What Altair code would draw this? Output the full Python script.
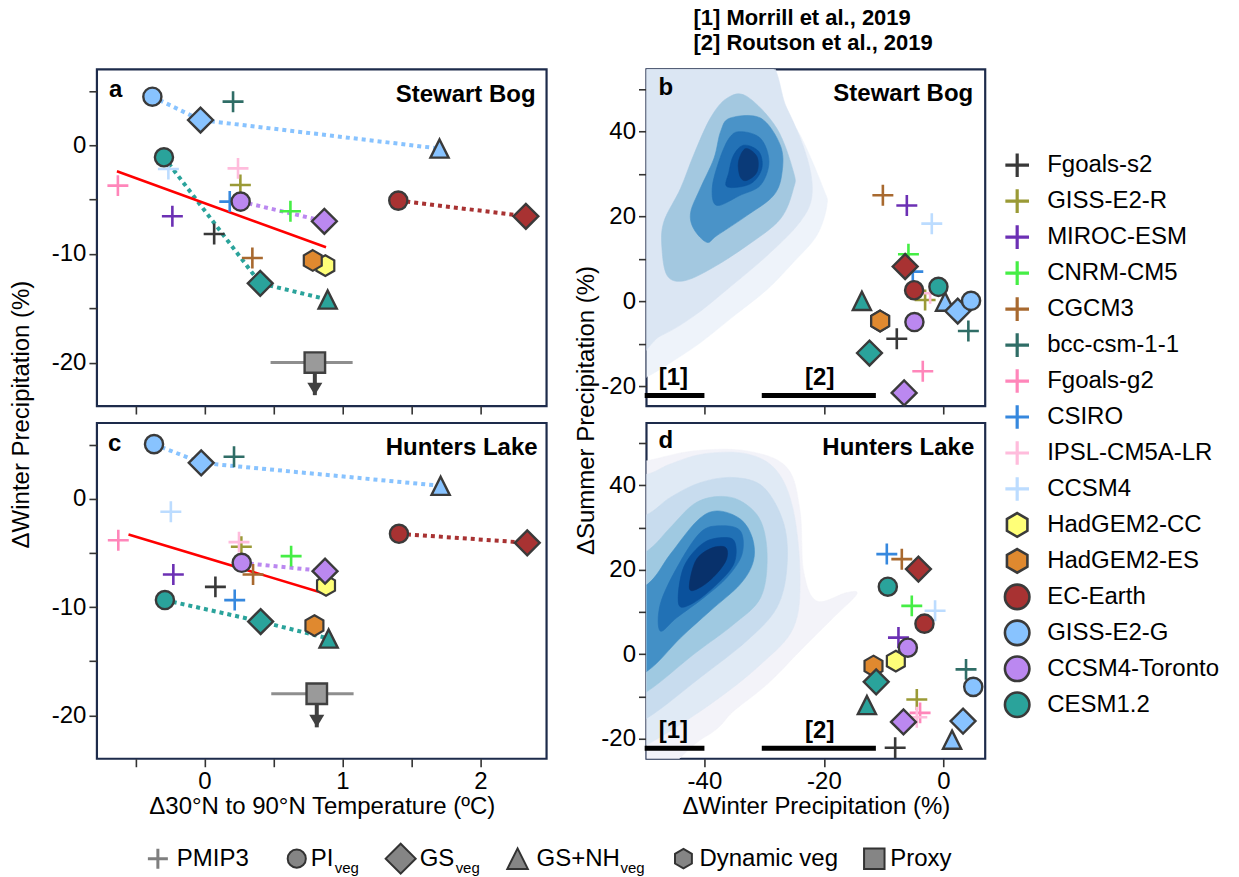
import altair as alt
import pandas as pd

FONT = "Liberation Sans"
FRAME = "#1d2b4b"
EDGE = "#3a3a3a"
TICKC = "#333333"

# ---------------- data ----------------
models = ["Fgoals-s2", "GISS-E2-R", "MIROC-ESM", "CNRM-CM5", "CGCM3", "bcc-csm-1-1",
          "Fgoals-g2", "CSIRO", "IPSL-CM5A-LR", "CCSM4", "HadGEM2-CC", "HadGEM2-ES",
          "EC-Earth", "GISS-E2-G", "CCSM4-Toronto", "CESM1.2"]
model_groups = ["PMIP3"] * 10 + ["DYN"] * 2 + ["PI"] * 4
pmip_models = models[:10]
dyn_models = models[10:12]
exp_models = ["EC-Earth", "EC-Earth", "GISS-E2-G", "GISS-E2-G", "GISS-E2-G",
              "CCSM4-Toronto", "CCSM4-Toronto", "CESM1.2", "CESM1.2", "CESM1.2"]
exp_kinds = ["PI", "GS", "PI", "GS", "GSNH", "PI", "GS", "PI", "GS", "GSNH"]

# panel a : Stewart Bog, temperature vs winter precip
a_pmip_x = [0.070, 0.260, -0.233, 0.623, 0.347, 0.207, -0.628, 0.183, 0.243, -0.262]
a_pmip_y = [-8.16, -3.65, -6.53, -6.07, -10.37, 4.02, -3.71, -5.18, -2.12, -2.18]
a_dyn_x = [0.876, 0.785]
a_dyn_y = [-11.07, -10.6]
a_exp_x = [1.405, 2.33, -0.378, -0.029, 1.704, 0.262, 0.869, -0.294, 0.404, 0.893]
a_exp_y = [-5.09, -6.53, 4.48, 2.33, -0.3, -5.18, -6.99, -1.10, -12.7, -14.2]
a_proxy = {"x": 0.80, "y": -20.0, "lo": 0.479, "hi": 1.074, "end": -23.0}
a_fit_x = [-0.635, 0.881]
a_fit_y = [-2.39, -9.38]

# panel c : Hunters Lake, temperature vs winter precip
c_pmip_x = [0.079, 0.267, -0.226, 0.628, 0.352, 0.214, -0.625, 0.219, 0.25, -0.244]
c_pmip_y = [-8.13, -4.43, -6.99, -5.29, -6.99, 3.88, -3.82, -9.35, -4.0, -1.2]
c_dyn_x = [0.881, 0.797]
c_dyn_y = [-8.0, -11.7]
c_exp_x = [1.41, 2.34, -0.366, -0.024, 1.712, 0.27, 0.874, -0.287, 0.407, 0.90]
c_exp_y = [-3.23, -4.06, 5.05, 3.32, 1.2, -5.91, -6.68, -9.35, -11.33, -12.9]
c_proxy = {"x": 0.814, "y": -18.0, "lo": 0.484, "hi": 1.081, "end": -21.1}
c_fit_x = [-0.551, 0.869]
c_fit_y = [-3.29, -8.74]

# panel b : Stewart Bog, winter vs summer precip
b_pmip_x = [-7.8, -3.06, -6.12, -5.85, -10.13, 4.18, -3.45, -5.12, -2.22, -1.94]
b_pmip_y = [-8.85, 0.3, 22.6, 11.1, 25.0, -7.0, -16.5, 7.0, 1.9, 18.3]
b_dyn_x = [-10.6, -10.58]
b_dyn_y = [-4.65, -4.65]
b_exp_x = [-4.9, -6.4, 4.63, 2.4, 0.28, -4.85, -6.57, -0.83, -12.37, -13.64]
b_exp_y = [2.6, 8.2, 0.1, -2.3, -0.1, -4.9, -21.6, 3.4, -12.2, 0.1]

# panel d : Hunters Lake, winter vs summer precip
d_pmip_x = [-8.07, -4.45, -7.52, -5.29, -6.96, 3.79, -3.9, -9.47, -4.45, -1.39]
d_pmip_y = [-22.1, -10.7, 3.95, 11.45, 22.5, -3.56, -13.85, 23.7, -14.9, 10.3]
d_dyn_x = [-7.96, -11.7]
d_dyn_y = [-1.6, -2.77]
d_exp_x = [-3.17, -4.18, 5.0, 3.29, 1.45, -5.95, -6.68, -9.3, -11.25, -12.8]
d_exp_y = [7.25, 20.15, -7.7, -15.8, -20.2, 1.56, -16.0, 16.0, -6.5, -12.0]

# reconstruction ranges [1], [2]
ref_labels = ["[1]", "[2]"]
ref_x0 = [-50.0, -30.4]
ref_x1 = [-40.0, -11.3]
ref_y = [-22.2, -22.2]
ref_label_x = [-45.2, -20.7]
ref_label_y = [-18.2, -18.2]

# density contours (outer -> inner), panel b
b_cx = [
    [-56, -31.0, -28.4, -24.0, -20.1, -19.5, -21.2, -25.1, -29.5, -35.1, -40.7, -45.7, -49.5, -56],
    [-56, -32.0, -26.2, -22.8, -22.0, -24.0, -29.5, -36.2, -41.8, -47.4, -56],
    [-36.2, -32.9, -27.9, -25.1, -25.1, -27.3, -32.9, -39.0, -43.5, -46.2, -47.1, -46.8, -44.0, -41.8, -39.0],
    [-35.7, -30.6, -27.3, -27.0, -28.4, -32.9, -37.9, -39.6, -41.8, -42.3, -40.7, -38.4, -37.3],
    [-34.0, -30.6, -29.2, -30.6, -34.0, -37.9, -38.7, -37.6, -35.9],
    [-33.4, -30.9, -30.4, -32.3, -36.2, -35.9, -35.1],
    [-33.1, -31.2, -31.2, -32.9, -34.0, -34.3],
]
b_cy = [
    [60, 60, 48.7, 39.2, 26.6, 22.6, 15.5, 9.2, 2.8, -3.5, -9.8, -14.5, -17.7, -22],
    [60, 60, 45.5, 33.7, 25.0, 18.7, 10.8, 2.8, -3.5, -8.2, -13],
    [47.9, 48.3, 40.8, 30.5, 26.6, 19.4, 13.1, 7.6, 4.8, 6.0, 12.3, 18.7, 26.6, 34.5, 43.2],
    [43.2, 43.2, 36.8, 30.5, 25.0, 20.2, 15.5, 13.9, 17.1, 21.0, 26.6, 33.7, 40.0],
    [40.0, 38.4, 32.9, 27.4, 25.0, 22.6, 26.6, 32.9, 38.4],
    [36.8, 35.3, 31.3, 27.7, 27.0, 30.5, 34.5],
    [36.0, 34.1, 30.5, 28.5, 29.3, 32.9],
]
# density contours (outer -> inner), panel d
d_cx = [
    [-56, -40.1, -35.1, -29.5, -24.0, -18.4, -14.5, -16.2, -21.2, -23.4, -24.0, -26.2, -32.9, -41.8, -49.5, -56],
    [-56, -49.5, -39.0, -30.6, -25.1, -24.0, -25.1, -27.9, -32.9, -40.1, -45.7, -49.5, -56],
    [-56, -49.5, -40.7, -32.9, -27.9, -26.2, -26.7, -30.1, -35.1, -40.7, -45.7, -49.5, -56],
    [-56, -49.5, -41.8, -35.1, -30.6, -29.5, -30.6, -34.0, -37.9, -41.8, -45.7, -49.5, -56],
    [-56, -49.5, -44.0, -39.0, -34.0, -31.8, -32.0, -34.0, -37.9, -41.2, -45.7, -49.5, -56],
    [-47.4, -47.4, -44.6, -40.7, -37.3, -34.0, -33.7, -36.2, -40.1, -44.6],
    [-44.3, -43.5, -40.1, -36.2, -34.8, -35.1, -37.9, -41.8],
    [-42.5, -41.5, -39.0, -36.5, -36.3, -38.0, -40.5],
]
d_cy = [
    [-30, -19.7, -13.4, -7.1, 0.8, 8.7, 14.2, 14.6, 12.6, 19.7, 33.9, 44.2, 48.1, 48.1, 45.8, 44],
    [-25, -21.3, -11.8, -2.4, 6.3, 18.2, 33.9, 43.4, 47.4, 47.4, 45.0, 42.6, 41],
    [-19, -15.0, -5.5, 3.2, 11.0, 20.5, 30.8, 39.5, 41.8, 40.6, 37.1, 33.1, 29],
    [-13, -8.7, 0.0, 7.1, 13.4, 22.9, 31.6, 36.3, 37.3, 35.5, 30.0, 24.5, 19],
    [-8, -3.9, 3.9, 10.3, 16.6, 22.1, 27.6, 32.0, 33.9, 31.6, 23.7, 16.6, 12],
    [5.5, 11.8, 20.5, 28.8, 30.4, 29.2, 23.7, 18.2, 13.4, 8.7],
    [11.8, 20.5, 26.4, 27.6, 26.0, 21.3, 16.6, 12.2],
    [15.5, 22.0, 25.0, 25.3, 22.5, 19.0, 16.0],
]

# bottom legend
bl_labels = ["PMIP3", "PI", "GS", "GS+NH", "Dynamic veg", "Proxy"]
bl_subs = ["", "veg", "veg", "veg", "", ""]

# ---------------- styles ----------------
model_colors = ["#383838", "#9a9a36", "#6c30b4", "#45ee45", "#a8692f", "#2f6d66",
                "#ff86ba", "#3688de", "#ffbcdc", "#bcdcff", "#ffff78", "#e0892f",
                "#a83232", "#88c3ff", "#bb88f0", "#2aa39b"]
b_fill = ["#eef3fa", "#dbe6f3", "#a3c8e0", "#4a93c8", "#2372b6", "#0c55a0", "#0a3a78"]
d_fill = ["#f3f3f9", "#e0eaf5", "#c8dcee", "#9fc9e1", "#4390c6", "#2171b5", "#0a519c", "#08316b"]

CROSS = "M-1,0L1,0M0,-1L0,1"
HEX = "M0,-1L0.866,-0.5L0.866,0.5L0,1L-0.866,0.5L-0.866,-0.5Z"
TRI = "M0,-1L1,1L-1,1Z"
HEAD = "M-0.9,-1.5L0.9,-1.5L0,0Z"

COLOR_SCALE = alt.Scale(domain=models, range=model_colors)
ONE = pd.DataFrame({"k": [0]})
NOFRAME = alt.ViewBackground(stroke="transparent")


def axis(values, label_expr=None, title=None, **kw):
    args = dict(values=values, tickSize=8, tickWidth=1.6, tickColor=TICKC, domain=False,
                grid=False, labelFont=FONT, labelFontSize=24, labelColor="black",
                labelPadding=3, titleFont=FONT, titleFontSize=24,
                titleFontWeight="normal", titleColor="black")
    if label_expr is None:
        args["labels"] = False
    else:
        args["labelExpr"] = label_expr
    args["title"] = title if title else None
    args.update(kw)
    return alt.Axis(**args)


class Pos:
    """Holds a panel's scales and axes; builds x / y encodings for any field."""

    def __init__(self, xdom, ydom, xax, yax):
        self.xdom, self.ydom, self.xax, self.yax = xdom, ydom, xax, yax

    def X(self, f="x"):
        return alt.X(f"{f}:Q", scale=alt.Scale(domain=self.xdom, nice=False, zero=False), axis=self.xax)

    def Y(self, f="y"):
        return alt.Y(f"{f}:Q", scale=alt.Scale(domain=self.ydom, nice=False, zero=False), axis=self.yax)


def text_layer(text, x, y, align="left", size=24, weight="bold"):
    return alt.Chart(ONE).mark_text(text=text, align=align, baseline="middle", font=FONT,
                                    fontSize=size, fontWeight=weight, color="black").encode(
        x=alt.value(x), y=alt.value(y))


def exp_frame(ex_x, ex_y):
    ex = pd.DataFrame({"model": exp_models, "kind": exp_kinds, "x": ex_x, "y": ex_y})
    ex["seq"] = ex["kind"].map({"PI": 0, "GS": 1, "GSNH": 2})
    return ex


def dotted_layer(P, ex_x, ex_y):
    ex = exp_frame(ex_x, ex_y)
    return alt.Chart(ex).mark_line(strokeDash=[4, 4], strokeWidth=4, strokeCap="butt").encode(
        x=P.X(), y=P.Y(), color=alt.Color("model:N", scale=COLOR_SCALE, legend=None),
        detail="model:N", order="seq:Q")


def marker_layers(P, pm_x, pm_y, dy_x, dy_y, ex_x, ex_y):
    pm = pd.DataFrame({"model": pmip_models, "x": pm_x, "y": pm_y})
    dy = pd.DataFrame({"model": dyn_models, "x": dy_x, "y": dy_y})
    ex = exp_frame(ex_x, ex_y)
    col = alt.Color("model:N", scale=COLOR_SCALE, legend=None)
    fil = alt.Fill("model:N", scale=COLOR_SCALE, legend=None)
    layers = [
        alt.Chart(pm).mark_point(shape=CROSS, filled=False, size=440, strokeWidth=2.6,
                                 opacity=1).encode(x=P.X(), y=P.Y(), color=col),
        alt.Chart(dy).mark_point(shape=HEX, filled=True, size=430, stroke=EDGE,
                                 strokeWidth=2.2, opacity=1).encode(x=P.X(), y=P.Y(), fill=fil),
    ]
    for kind, shp, sz in [("GSNH", TRI, 330), ("GS", "diamond", 620), ("PI", "circle", 330)]:
        layers.append(alt.Chart(ex).transform_filter(f"datum.kind === '{kind}'").mark_point(
            shape=shp, filled=True, size=sz, stroke=EDGE, strokeWidth=2.4, opacity=1).encode(
            x=P.X(), y=P.Y(), fill=fil))
    return layers


def proxy_layers(P, p, fit_x, fit_y):
    pdf = pd.DataFrame([p])
    fit = pd.DataFrame({"x": fit_x, "y": fit_y})
    return [
        alt.Chart(fit).mark_line(color="#ff0000", strokeWidth=2.5).encode(x=P.X(), y=P.Y()),
        alt.Chart(pdf).mark_rule(color="#7a7a7a", strokeWidth=3, opacity=0.85).encode(
            x=P.X("lo"), x2="hi:Q", y=P.Y()),
        alt.Chart(pdf).mark_rule(color="#404040", strokeWidth=4).encode(
            x=P.X(), y=P.Y(), y2="end:Q"),
        alt.Chart(pdf).mark_point(shape=HEAD, filled=True, size=280, color="#404040",
                                  opacity=1).encode(x=P.X(), y=P.Y("end")),
        alt.Chart(pdf).mark_point(shape="square", filled=True, size=420, fill="#9a9a9a",
                                  stroke="#404040", strokeWidth=2.4, opacity=1).encode(x=P.X(), y=P.Y()),
    ]


def contour_layers(P, cx, cy, fills):
    layers = []
    for lx, ly, f in zip(cx, cy, fills):
        df = pd.DataFrame({"x": lx, "y": ly, "o": list(range(len(lx)))})
        layers.append(alt.Chart(df).mark_line(fill=f, stroke=f, strokeWidth=0.6,
                                              interpolate="cardinal-closed", clip=True).encode(
            x=P.X(), y=P.Y(), order="o:Q"))
    return layers


def ref_layers(P):
    df = pd.DataFrame({"lab": ref_labels, "x0": ref_x0, "x1": ref_x1, "y": ref_y,
                       "lx": ref_label_x, "ly": ref_label_y})
    return [
        alt.Chart(df).mark_rule(color="black", strokeWidth=5, strokeCap="butt").encode(
            x=P.X("x0"), x2="x1:Q", y=P.Y()),
        alt.Chart(df).mark_text(font=FONT, fontSize=24, fontWeight="bold", baseline="middle",
                                color="black").encode(x=P.X("lx"), y=P.Y("ly"), text="lab:N"),
    ]


# ---------------- panels a, c ----------------
AC_XDOM = [-0.78, 2.48]
AC_YDOM = [-24.0, 7.0]
ac_x_vals = [-0.5, 0, 0.5, 1, 1.5, 2]
ac_y_vals = [-20, -15, -10, -5, 0, 5]
lab10 = "datum.value % 10 === 0 ? '' + datum.value : ''"
lab1 = "datum.value % 1 === 0 ? '' + datum.value : ''"

Pa = Pos(AC_XDOM, AC_YDOM, axis(ac_x_vals),
         axis(ac_y_vals, lab10, "ΔWinter Precipitation (%)", titleY=345, titleX=-63))
Pc = Pos(AC_XDOM, AC_YDOM, axis(ac_x_vals, lab1, "Δ30°N to 90°N Temperature (ºC)", titlePadding=1),
         axis(ac_y_vals, lab10))

panel_a = alt.layer(
    dotted_layer(Pa, a_exp_x, a_exp_y),
    *proxy_layers(Pa, a_proxy, a_fit_x, a_fit_y),
    *marker_layers(Pa, a_pmip_x, a_pmip_y, a_dyn_x, a_dyn_y, a_exp_x, a_exp_y),
    text_layer("a", 12, 21),
    text_layer("Stewart Bog", 439, 26, align="right"),
).properties(width=450, height=337)

panel_c = alt.layer(
    dotted_layer(Pc, c_exp_x, c_exp_y),
    *proxy_layers(Pc, c_proxy, c_fit_x, c_fit_y),
    *marker_layers(Pc, c_pmip_x, c_pmip_y, c_dyn_x, c_dyn_y, c_exp_x, c_exp_y),
    text_layer("c", 11, 21),
    text_layer("Hunters Lake", 441, 25, align="right"),
).properties(width=450, height=336)

# ---------------- panels b, d ----------------
BD_XDOM = [-49.7, 7.0]
BD_YDOM = [-24.7, 54.7]
bd_x_vals = [-40, -20, 0]
bd_y_vals = [-20, -10, 0, 10, 20, 30, 40, 50]
lab20 = "datum.value % 20 === 0 ? '' + datum.value : ''"

Pb = Pos(BD_XDOM, BD_YDOM, axis(bd_x_vals),
         axis(bd_y_vals, lab20, "ΔSummer Precipitation (%)", titleY=341, titleX=-48))
Pd = Pos(BD_XDOM, BD_YDOM, axis(bd_x_vals, "'' + datum.value", "ΔWinter Precipitation (%)", titlePadding=1),
         axis(bd_y_vals, lab20))

panel_b = alt.layer(
    *contour_layers(Pb, b_cx, b_cy, b_fill),
    *ref_layers(Pb),
    *marker_layers(Pb, b_pmip_x, b_pmip_y, b_dyn_x, b_dyn_y, b_exp_x, b_exp_y),
    text_layer("b", 12, 19),
    text_layer("Stewart Bog", 327, 25, align="right"),
    text_layer("[1] Morrill et al., 2019", 47, -51, size=22),
    text_layer("[2] Routson et al., 2019", 47, -26, size=22),
).properties(width=339, height=337)

panel_d = alt.layer(
    *contour_layers(Pd, d_cx, d_cy, d_fill),
    *ref_layers(Pd),
    *marker_layers(Pd, d_pmip_x, d_pmip_y, d_dyn_x, d_dyn_y, d_exp_x, d_exp_y),
    text_layer("d", 12, 18),
    text_layer("Hunters Lake", 328, 25, align="right"),
).properties(width=339, height=336)

# grid geometry (flush layout)
COL_GAP = 100
ROW_GAP = 17
LEG_SHIFT = -(COL_GAP - 10)  # legend column drawn 10 px right of panel b

# ---------------- model legend (right) ----------------
leg = pd.DataFrame({"model": models, "i": list(range(len(models))), "grp": model_groups})
LY = alt.Y("i:Q", scale=alt.Scale(domain=[0, 15], range=[96, 636]), axis=None)
lcol = alt.Color("model:N", scale=COLOR_SCALE, legend=None)
lfil = alt.Fill("model:N", scale=COLOR_SCALE, legend=None)
legend = alt.layer(
    alt.Chart(leg).transform_filter("datum.grp === 'PMIP3'").mark_point(
        shape=CROSS, filled=False, size=560, strokeWidth=3.2, opacity=1).encode(
        x=alt.value(LEG_SHIFT + 22), y=LY, color=lcol),
    alt.Chart(leg).transform_filter("datum.grp === 'DYN'").mark_point(
        shape=HEX, filled=True, size=560, stroke=EDGE, strokeWidth=2.6, opacity=1).encode(
        x=alt.value(LEG_SHIFT + 22), y=LY, fill=lfil),
    alt.Chart(leg).transform_filter("datum.grp === 'PI'").mark_point(
        shape="circle", filled=True, size=600, stroke=EDGE, strokeWidth=2.6, opacity=1).encode(
        x=alt.value(LEG_SHIFT + 22), y=LY, fill=lfil),
    alt.Chart(leg).mark_text(align="left", baseline="middle", font=FONT, fontSize=24,
                             color="black").encode(x=alt.value(LEG_SHIFT + 52), y=LY, text="model:N"),
).properties(width=150, height=337, view=NOFRAME)

# ---------------- bottom legend (experiment types) ----------------
bl_sym_px = [61, 200, 304, 421, 587, 778]
bl_txt_px = [80, 214, 323, 440, 603, 794]
bl_sub_px = [0, 238, 359, 524, 0, 0]
bl_shapes = [CROSS, "circle", "diamond", TRI, HEX, "square"]
bl_sizes = [400, 330, 900, 420, 380, 420]
BL_Y = 83
bl = pd.DataFrame({"lab": bl_labels, "sub": bl_subs, "sx": bl_sym_px, "tx": bl_txt_px,
                   "ux": bl_sub_px, "shape": bl_shapes, "sz": bl_sizes})
bottom = alt.layer(
    alt.Chart(bl).transform_filter("datum.lab === 'PMIP3'").mark_point(
        filled=False, strokeWidth=3, color="#7f7f7f", opacity=1).encode(
        x=alt.X("sx:Q", scale=None), y=alt.value(BL_Y),
        shape=alt.Shape("shape:N", scale=None), size=alt.Size("sz:Q", scale=None)),
    alt.Chart(bl).transform_filter("datum.lab !== 'PMIP3'").mark_point(
        filled=True, fill="#858585", stroke="#333333", strokeWidth=2, opacity=1).encode(
        x=alt.X("sx:Q", scale=None), y=alt.value(BL_Y),
        shape=alt.Shape("shape:N", scale=None), size=alt.Size("sz:Q", scale=None)),
    alt.Chart(bl).mark_text(align="left", baseline="middle", font=FONT, fontSize=24,
                            color="black").encode(
        x=alt.X("tx:Q", scale=None), y=alt.value(BL_Y), text="lab:N"),
    alt.Chart(bl).transform_filter("datum.sub !== ''").mark_text(
        align="left", baseline="middle", font=FONT, fontSize=15, color="black").encode(
        x=alt.X("ux:Q", scale=None), y=alt.value(BL_Y + 9), text="sub:N"),
).properties(width=450, height=100, view=NOFRAME)

spacer = alt.Chart(ONE).mark_point(opacity=0).encode(
    x=alt.value(0), y=alt.value(0)).properties(width=10, height=10, view=NOFRAME)

chart = alt.concat(
    panel_a, panel_b, legend,
    panel_c, panel_d, spacer,
    bottom,
    columns=3, spacing={"row": ROW_GAP, "column": COL_GAP}, bounds="flush",
).resolve_scale(x="independent", y="independent").properties(
    padding={"left": 8, "top": 5, "right": 2, "bottom": 2}
).configure(font=FONT).configure_view(stroke=FRAME, strokeWidth=2.2)

chart.save("out.html", embed_options={"renderer": "svg", "actions": False})
